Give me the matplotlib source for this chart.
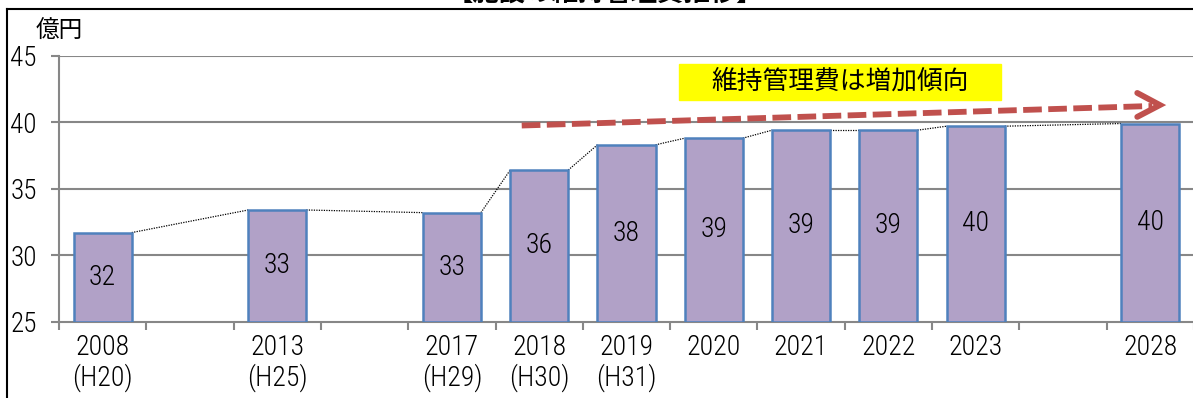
import numpy as np
import matplotlib
matplotlib.use('Agg')
import matplotlib.pyplot as plt
from matplotlib.lines import Line2D
from matplotlib.patches import Rectangle

plt.rcParams['font.family'] = ['Roboto Condensed', 'Noto Sans CJK JP', 'DejaVu Sans']
plt.rcParams['font.weight'] = 'light'

# Fiscal years (blank slots keep the time gaps) and maintenance cost (100M yen)
categories = ['2008\n(H20)', '', '2013\n(H25)', '', '2017\n(H29)', '2018\n(H30)',
              '2019\n(H31)', '2020', '2021', '2022', '2023', '', '2028']
costs = [31.7, np.nan, 33.4, np.nan, 33.2, 36.4, 38.3, 38.8, 39.4, 39.4, 39.7, np.nan, 39.9]
title = '【施設の維持管理費推移】'
unit = '億円'
note = '維持管理費は増加傾向'

fig = plt.figure(figsize=(11.93, 3.98), dpi=100)
ax = fig.add_axes([59 / 1193, 76.3 / 398, 1135 / 1193, 266 / 398])

x = np.arange(len(categories))
y = np.array(costs)
w = 0.665
grid_c = '#878787'

# horizontal grid
for v in [30, 35, 40, 45]:
    ax.axhline(v, color=grid_c, lw=1.5, zorder=1)

mask = ~np.isnan(y)
bars = ax.bar(x[mask], y[mask] - 25, bottom=25, width=w, color='#B1A1C7',
              edgecolor='#4F81BD', linewidth=1.8, zorder=3)

# value labels in the middle of each bar
for xi, yi in zip(x[mask], y[mask]):
    ax.text(xi, (25 + yi) / 2, f'{yi:.0f}', ha='center', va='center',
            fontsize=20, zorder=4)

# dotted series lines between neighbouring bars
xs, ys = x[mask], y[mask]
for i in range(len(xs) - 1):
    ax.plot([xs[i] + w / 2, xs[i + 1] - w / 2], [ys[i], ys[i + 1]],
            color='black', lw=0.9, ls=(0, (1, 1)), zorder=2)

ax.set_xlim(-0.5, len(categories) - 0.5)
ax.set_ylim(25, 45)
ax.set_yticks([25, 30, 35, 40, 45])
ax.tick_params(axis='y', length=6, width=1.5, color=grid_c, labelsize=19.5, pad=10)

ax.set_xticks(np.arange(len(categories) + 1) - 0.5)
ax.set_xticklabels([])
ax.tick_params(axis='x', which='major', length=6, width=1.5, color=grid_c)
ax.set_xticks(x, minor=True)
ax.set_xticklabels(categories, minor=True, fontsize=20, linespacing=1.1)
ax.tick_params(axis='x', which='minor', length=0, pad=9)

for s in ['top', 'right']:
    ax.spines[s].set_visible(False)
for s in ['left', 'bottom']:
    ax.spines[s].set_color(grid_c)
    ax.spines[s].set_linewidth(1.5)

# red dashed trend arrow
ax.plot([4.80, 12.02], [39.75, 41.22], color='#C0504D', lw=4.2,
        dashes=(3.2, 1.1), solid_capstyle='butt', dash_capstyle='butt',
        zorder=5, clip_on=False)
ax.plot([11.85, 12.11, 11.85], [42.2, 41.29, 40.4], color='#C0504D', lw=4.2,
        solid_capstyle='round', solid_joinstyle='miter', zorder=5, clip_on=False)

# yellow note box
fig.patches.append(Rectangle((679 / 1193, 1 - 100 / 398), 322 / 1193, 36 / 398,
                             transform=fig.transFigure, color='#FFFF00', zorder=5))
fig.text(840 / 1193, 1 - 82 / 398, note, ha='center', va='center', fontsize=18.5,
         family=['Noto Sans CJK JP'], fontweight='normal', zorder=6)

fig.text(36 / 1193, 1 - 31 / 398, unit, ha='left', va='center', fontsize=17,
         family=['Noto Sans CJK JP'], fontweight='normal')
fig.text(605 / 1193, 1 - 1.5 / 398, title, ha='center', va='baseline',
         fontsize=19, fontweight='bold', family=['Noto Sans CJK JP'])

# outer frame
fig.lines.append(Line2D([7 / 1193, 1], [1 - 9 / 398] * 2, transform=fig.transFigure,
                        color='black', lw=1.5))
fig.lines.append(Line2D([7.5 / 1193] * 2, [0, 1 - 9 / 398], transform=fig.transFigure,
                        color='black', lw=1.5))

fig.savefig('out.png', dpi=100)
